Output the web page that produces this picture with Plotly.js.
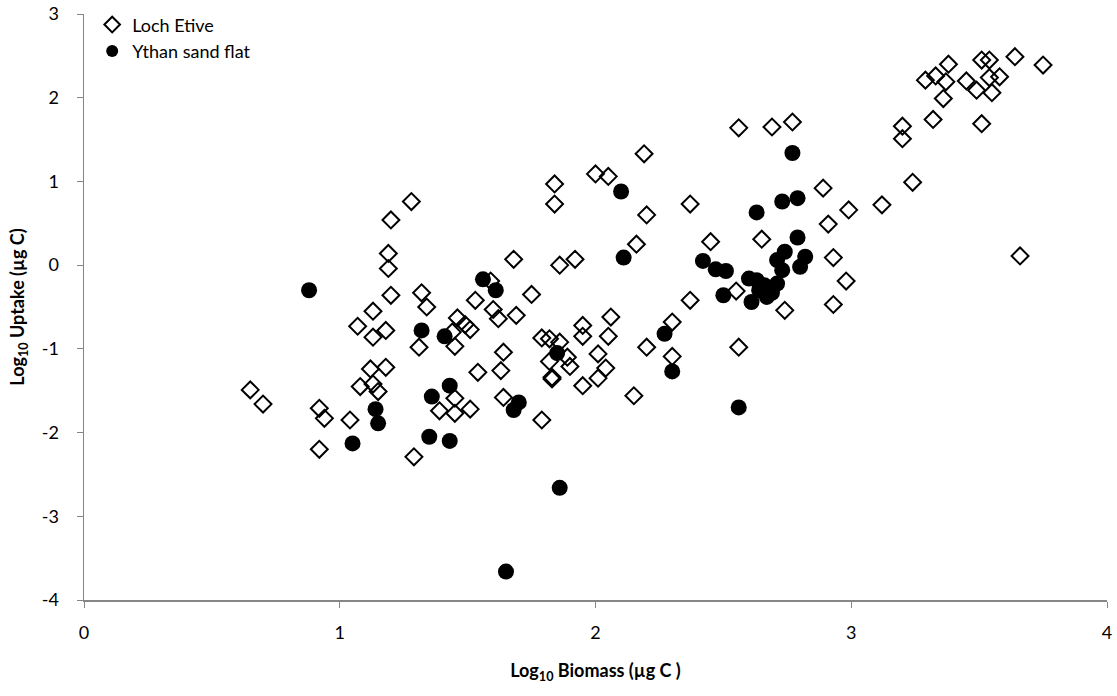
<!DOCTYPE html>
<html>
<head>
<meta charset="utf-8">
<script src="https://cdn.plot.ly/plotly-3.0.1.min.js"></script>
<style>
  html, body { margin: 0; padding: 0; background: #fff; }
  #chart { width: 1117px; height: 696px; }
</style>
</head>
<body>
<div id="chart"></div>
<script>
// Loch Etive (open diamonds): log10 biomass, log10 uptake
var etiveX = [0.65, 0.70, 0.92, 0.94, 0.92, 1.04,
  1.13, 1.07, 1.13, 1.12, 1.08, 1.13, 1.15,
  1.28, 1.20, 1.19, 1.19, 1.20, 1.32, 1.34,
  1.18, 1.18, 1.31, 1.29,
  1.44, 1.45, 1.46, 1.49, 1.51, 1.53, 1.59, 1.60, 1.62, 1.69, 1.68, 1.75,
  1.54, 1.63, 1.64, 1.64, 1.45, 1.39, 1.45, 1.51,
  1.79, 1.82, 1.86, 1.82, 1.89, 1.90, 1.83, 1.83, 1.79,
  1.84, 1.84, 1.86, 1.92,
  1.95, 1.95, 2.01, 2.04, 2.01, 1.95, 2.05, 2.06,
  2.00, 2.05, 2.19, 2.20, 2.16, 2.20, 2.15,
  2.30, 2.30, 2.37, 2.37, 2.45, 2.55, 2.56, 2.56, 2.65, 2.69, 2.77, 2.74,
  2.89, 2.91, 2.93, 2.93, 2.98, 2.99,
  3.12, 3.24, 3.20, 3.20, 3.32, 3.36, 3.51,
  3.29, 3.33, 3.37, 3.38, 3.45, 3.49, 3.51, 3.54, 3.54, 3.58, 3.55, 3.64, 3.75, 3.66];
var etiveY = [-1.49, -1.66, -1.71, -1.83, -2.20, -1.85,
  -0.55, -0.73, -0.86, -1.24, -1.45, -1.42, -1.51,
  0.76, 0.54, 0.14, -0.04, -0.36, -0.33, -0.50,
  -0.78, -1.22, -0.98, -2.29,
  -0.80, -0.97, -0.63, -0.71, -0.77, -0.42, -0.19, -0.53, -0.64, -0.60, 0.07, -0.35,
  -1.28, -1.26, -1.04, -1.58, -1.59, -1.74, -1.77, -1.72,
  -0.87, -0.88, -0.92, -1.15, -1.10, -1.21, -1.34, -1.36, -1.85,
  0.97, 0.73, 0.00, 0.07,
  -0.72, -0.85, -1.06, -1.23, -1.35, -1.44, -0.85, -0.62,
  1.09, 1.06, 1.33, 0.60, 0.25, -0.98, -1.56,
  -0.68, -1.09, -0.42, 0.73, 0.28, -0.31, -0.98, 1.64, 0.31, 1.65, 1.71, -0.54,
  0.92, 0.49, 0.09, -0.47, -0.19, 0.66,
  0.72, 0.99, 1.51, 1.66, 1.74, 1.99, 1.69,
  2.21, 2.26, 2.19, 2.40, 2.20, 2.09, 2.45, 2.45, 2.24, 2.25, 2.06, 2.49, 2.39, 0.11];

// Ythan sand flat (filled circles)
var ythanX = [0.88, 1.05, 1.14, 1.15, 1.32, 1.35, 1.36, 1.41, 1.43, 1.43,
  1.56, 1.61, 1.65, 1.68, 1.70, 1.85, 1.86, 2.10, 2.11, 2.27, 2.30,
  2.42, 2.47, 2.51, 2.50, 2.56, 2.60, 2.63, 2.61, 2.67, 2.69, 2.71, 2.71,
  2.74, 2.79, 2.82, 2.80, 2.73, 2.64, 2.66, 2.63, 2.73, 2.79, 2.77];
var ythanY = [-0.30, -2.13, -1.72, -1.89, -0.78, -2.05, -1.57, -0.85, -1.44, -2.10,
  -0.17, -0.30, -3.66, -1.73, -1.64, -1.05, -2.66, 0.88, 0.09, -0.82, -1.27,
  0.05, -0.05, -0.07, -0.36, -1.70, -0.16, -0.18, -0.44, -0.38, -0.33, -0.22, 0.06,
  0.16, 0.33, 0.10, -0.02, -0.06, -0.30, -0.24, 0.63, 0.76, 0.80, 1.34];

var seriesNames = ['Loch Etive', 'Ythan sand flat'];

// tick labels as printed (plain hyphen minus)
var xTickVals = [0, 1, 2, 3, 4];
var xTickText = ['0', '1', '2', '3', '4'];
var yTickVals = [-4, -3, -2, -1, 0, 1, 2, 3];
var yTickText = ['-4', '-3', '-2', '-1', '0', '1', '2', '3'];

var fontFam = 'Lato, "Open Sans", sans-serif';

var etive = {
  x: etiveX,
  y: etiveY,
  name: seriesNames[0],
  mode: 'markers',
  type: 'scatter',
  marker: { symbol: 'diamond-open', size: 13, color: '#000', line: { width: 2, color: '#000' } }
};

var ythan = {
  x: ythanX,
  y: ythanY,
  name: seriesNames[1],
  mode: 'markers',
  type: 'scatter',
  marker: { symbol: 'circle', size: 16, color: '#000' }
};

var layout = {
  width: 1117,
  height: 696,
  margin: { l: 84, r: 10, t: 14, b: 96, autoexpand: false },
  paper_bgcolor: '#fff',
  plot_bgcolor: '#fff',
  font: { family: fontFam, size: 18, color: '#000' },
  showlegend: true,
  legend: {
    x: 0.008, y: 1.013, xanchor: 'left', yanchor: 'top',
    bgcolor: 'rgba(0,0,0,0)',
    font: { family: fontFam, size: 18, color: '#000' },
    itemsizing: 'constant',
    itemwidth: 30,
    tracegroupgap: 7
  },
  xaxis: {
    range: [0, 4],
    tickvals: xTickVals,
    ticktext: xTickText,
    showgrid: false,
    zeroline: false,
    showline: true,
    linecolor: '#868686',
    linewidth: 1.5,
    ticks: 'outside',
    ticklen: 6,
    tickcolor: '#868686',
    ticklabelstandoff: 10,
    tickfont: { size: 18 },
    title: { text: '<b>Log<sub>10</sub> Biomass (µg C )</b>', font: { size: 18 }, standoff: 22 }
  },
  yaxis: {
    range: [-4, 3],
    tickvals: yTickVals,
    ticktext: yTickText,
    showgrid: false,
    zeroline: false,
    showline: true,
    linecolor: '#868686',
    linewidth: 1.5,
    ticks: 'outside',
    ticklen: 6,
    tickcolor: '#868686',
    ticklabelstandoff: 14,
    tickfont: { size: 18 },
    title: { text: '<b>Log<sub>10</sub> Uptake (µg C)</b>', font: { size: 18 }, standoff: 12 }
  }
};

Plotly.newPlot('chart', [etive, ythan], layout, { displayModeBar: false, staticPlot: true });
</script>
</body>
</html>
